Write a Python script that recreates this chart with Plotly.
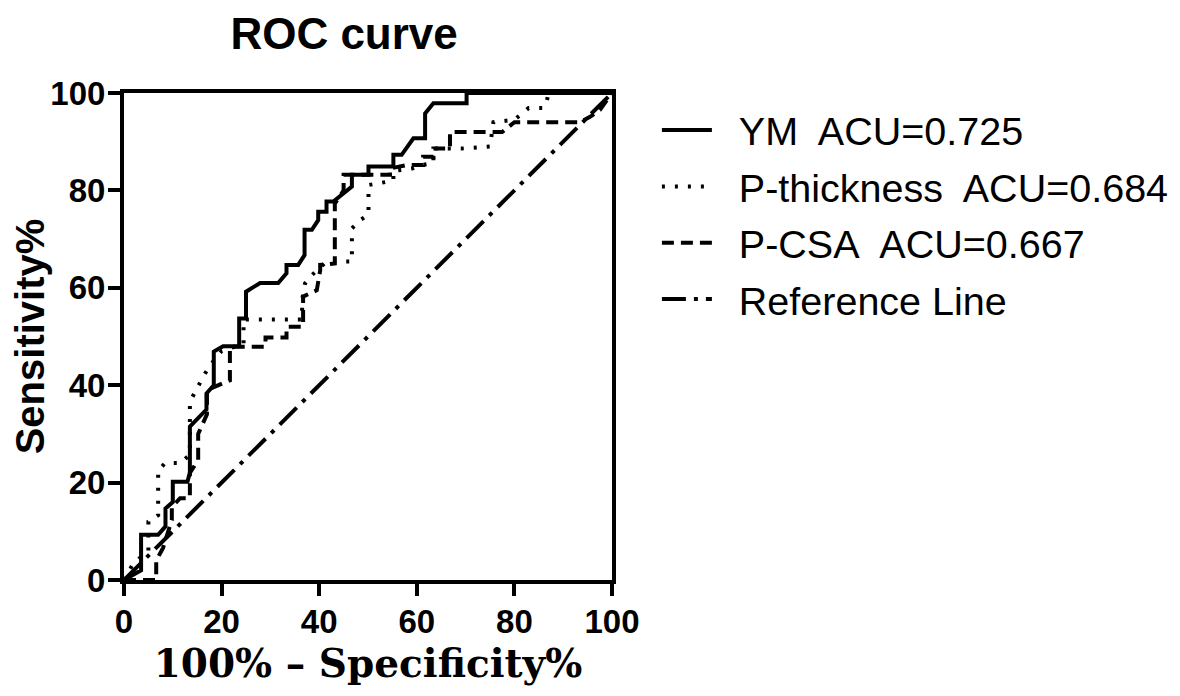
import plotly.graph_objects as go

# ---- data (100% - Specificity%, Sensitivity%) ----
ym_x = [0, 3.5, 3.5, 7, 8.5, 8.5, 10, 10, 13, 13.5, 13.5, 16.9, 16.9, 18.4, 18.4, 20.3, 23.6, 23.6, 25, 25,
        27.9, 31.6, 33.3, 33.3, 35.7, 37, 37, 38.5, 39.8, 39.8, 41.5, 41.5, 42.9, 44.5, 46.7, 46.7, 50.1, 50.1,
        55.2, 55.2, 56.9, 59.3, 61.7, 61.7, 63.4, 70.2, 70.2, 100]
ym_y = [0, 2, 9.3, 9.3, 11, 14.7, 16, 20.2, 20.2, 22, 31.5, 35, 38.3, 40, 46.9, 48, 48, 53.7, 53.7, 59.2,
        61, 61, 63, 64.7, 64.7, 66.7, 71.9, 71.9, 73.9, 75.6, 75.6, 77.7, 77.7, 79, 80.8, 83.2, 83.2, 84.9,
        84.9, 87.3, 87.3, 90.7, 90.7, 95.8, 97.9, 97.9, 100, 100]

pt_x = [0, 1.9, 5, 5, 7, 7, 8.4, 11.5, 13.5, 13.5, 16.6, 18, 20, 24.5, 24.5, 36.5, 36.5, 37.1, 38.5, 40.2,
        41.5, 46.7, 46.7, 48.4, 50.1, 50.1, 52.8, 55.2, 55.2, 59, 61, 63.4, 63.4, 69.2, 75, 75.7, 80, 82.9,
        85.9, 86.6, 87, 100]
pt_y = [0, 3.4, 6, 12, 13.3, 22.4, 24, 24, 25.7, 36.6, 42.4, 44.5, 47, 48.5, 53.5, 53.5, 57.5, 60.9, 62.6, 64.3,
        65.4, 65.4, 72.2, 73.9, 75, 81.1, 81.5, 82, 84, 84.5, 85.2, 85.6, 88.6, 88.6, 89, 94, 94.5, 96.9,
        96.9, 98.2, 100, 100]

pc_x = [0, 6.6, 6.6, 8, 9.8, 9.8, 11.5, 13.5, 13.5, 15.2, 15.2, 17, 17, 21.7, 21.7, 29, 29, 33.3, 33.3,
        36.7, 36.7, 39.5, 40.2, 40.2, 43.2, 43.2, 45, 45, 54.5, 54.5, 58, 61.3, 61.3, 63.4, 63.4, 66.8, 66.8,
        77.5, 80, 93.4, 95.5, 97.5, 100]
pc_y = [0, 0, 4, 6.6, 12.3, 15, 16.8, 16.8, 22, 24.6, 30, 34, 39, 41, 47.9, 47.9, 49.8, 49.8, 52,
        52, 58.2, 59.5, 63.6, 64.7, 65, 77.3, 80, 83.2, 83.2, 84.5, 85.2, 85.2, 86.9, 86.9, 88.6, 88.6, 92,
        92, 94, 94, 95.1, 96.5, 100]

ref_x = [0, 100]
ref_y = [0, 100]

names = ["\u00a0\u00a0YM\u00a0 ACU=0.725", "\u00a0\u00a0P-thickness\u00a0 ACU=0.684",
         "\u00a0\u00a0P-CSA\u00a0 ACU=0.667", "\u00a0\u00a0Reference Line"]
x_ticks = [0, 20, 40, 60, 80, 100]
y_ticks = [0, 20, 40, 60, 80, 100]

# page body adds an 8px offset; figure is sized to fit the window
W, H = 1172, 688
L, T = 116, 85
PW, PH = 488, 487

fig = go.Figure()
series = [
    (ym_x, ym_y, names[0], "solid"),
    (pt_x, pt_y, names[1], "3px,10px"),
    (pc_x, pc_y, names[2], "12px,7px"),
    (ref_x, ref_y, names[3], "24px,8px,4px,8px"),
]
for i, (xs, ys, nm, dash) in enumerate(series):
    fig.add_trace(go.Scatter(
        x=xs, y=ys, name=nm, mode="lines",
        line=dict(color="black", width=4, dash=dash),
        legendgroup=f"g{i}", hoverinfo="skip",
    ))

axis_common = dict(
    range=[0, 100], showgrid=False, zeroline=False,
    showline=True, linecolor="black", linewidth=4, mirror=True,
    ticks="outside", ticklen=12, tickwidth=3.5, tickcolor="black",
    tickfont=dict(family="Liberation Sans", size=33, color="black", weight="bold"),
)

fig.update_layout(
    width=W, height=H,
    paper_bgcolor="white", plot_bgcolor="white",
    margin=dict(l=L, r=W - L - PW, t=T, b=H - T - PH, autoexpand=False),
    title=dict(text="ROC curve", x=(L + 0.451 * PW) / W, xanchor="center",
               y=1 - 10 / H, yanchor="top", pad=dict(t=0),
               font=dict(family="Liberation Sans", size=44, color="black", weight="bold")),
    xaxis=dict(axis_common, tickvals=x_ticks, ticklabelstandoff=-3,
               title=dict(text="100% \u2013 Specificity%", standoff=12,
                          font=dict(family="DejaVu Serif", size=39, color="black", weight="bold"))),
    yaxis=dict(axis_common, tickvals=y_ticks, ticklabelstandoff=-4,
               title=dict(text="Sensitivity%", standoff=40,
                          font=dict(family="Liberation Sans", size=40, color="black", weight="bold"))),
    legend=dict(x=1.092, y=0.99, xanchor="left", yanchor="top",
                font=dict(family="Liberation Sans", size=39.5, color="black"),
                tracegroupgap=2, bgcolor="rgba(0,0,0,0)", itemwidth=50),
    showlegend=True,
)

fig.write_html("out.html")
